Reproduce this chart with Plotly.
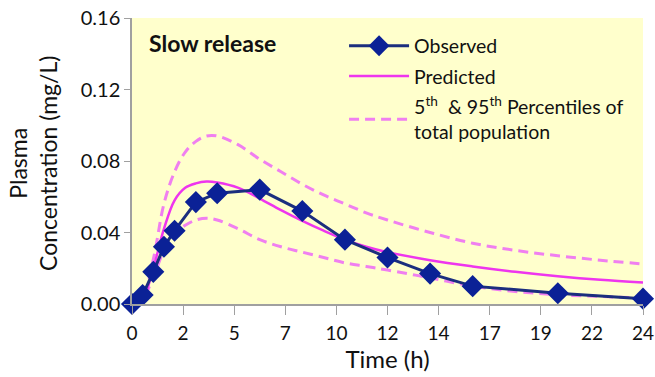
import plotly.graph_objects as go

# Observed data
obs_t = [0, 0.5, 1, 1.5, 2, 3, 4, 6, 8, 10, 12, 14, 16, 20, 24]
obs_c = [0.000, 0.005, 0.018, 0.032, 0.041, 0.057, 0.062, 0.064, 0.052, 0.036,
         0.026, 0.017, 0.010, 0.006, 0.003]

# Model curves
curve_t = [0, 0.5, 1, 1.5, 2, 2.5, 3, 3.5, 4, 5, 6, 7, 8, 9, 10, 11, 12, 14, 16, 18, 20, 22, 24]
pred_c = [0.000, 0.003, 0.020, 0.042, 0.058, 0.065, 0.0675, 0.0685, 0.068, 0.065, 0.059,
          0.0525, 0.0465, 0.041, 0.036, 0.032, 0.029, 0.0245, 0.021, 0.018, 0.0155, 0.0135, 0.012]
p95_c = [0.000, 0.004, 0.025, 0.056, 0.074, 0.085, 0.091, 0.094, 0.094, 0.089, 0.081,
         0.074, 0.067, 0.061, 0.056, 0.051, 0.047, 0.040, 0.034, 0.030, 0.027, 0.0245, 0.0224]
p5_c = [0.000, 0.003, 0.015, 0.030, 0.039, 0.044, 0.047, 0.048, 0.047, 0.042, 0.036,
        0.032, 0.029, 0.026, 0.023, 0.021, 0.019, 0.0146, 0.0100, 0.0070, 0.0052, 0.0042, 0.0034]

x_tickvals = [0, 2.4, 4.8, 7.2, 9.6, 12, 14.4, 16.8, 19.2, 21.6, 24]
x_ticktext = ['0', '2', '5', '7', '10', '12', '14', '17', '19', '22', '24']
y_tickvals = [0, 0.04, 0.08, 0.12, 0.16]

FONT = "Lato"
pct_color = "#f07ff0"
pred_color = "#ee35ee"

fig = go.Figure()

fig.add_trace(go.Scatter(
    x=curve_t, y=p95_c, mode="lines", line=dict(color=pct_color, width=3, dash="10px,6px", shape="spline"),
    name="5<sup>th</sup>  & 95<sup>th</sup> Percentiles of<br>total population",
    legendgroup="c", legendrank=3, showlegend=True))
fig.add_trace(go.Scatter(
    x=curve_t, y=p5_c, mode="lines", line=dict(color=pct_color, width=3, dash="10px,6px", shape="spline"),
    legendgroup="c", showlegend=False))
fig.add_trace(go.Scatter(
    x=curve_t, y=pred_c, mode="lines", line=dict(color=pred_color, width=2.5, shape="spline"),
    name="Predicted", legendgroup="b", legendrank=2))
fig.add_trace(go.Scatter(
    x=obs_t, y=obs_c, mode="lines+markers",
    line=dict(color="#1b2e7e", width=3),
    marker=dict(symbol="diamond", size=17, color="#0b2196"),
    name="Observed", legendgroup="a", legendrank=1, cliponaxis=False))

fig.add_annotation(x=0, y=0.16, xref="x", yref="y", text="<b>Slow release</b>",
                   showarrow=False, xanchor="left", yanchor="top", xshift=15, yshift=-9,
                   font=dict(family=FONT, size=23, color="#111111"))

fig.add_annotation(x=0, y=0.5, xref="paper", yref="paper", text="Plasma<br>Concentration (mg/L)",
                   showarrow=False, textangle=-90, xanchor="center", yanchor="middle",
                   xshift=-99, yshift=-3,
                   font=dict(family=FONT, size=23, color="#111111"))

fig.update_layout(
    width=655, height=377,
    margin=dict(l=132, r=12, t=18, b=73),
    paper_bgcolor="white", plot_bgcolor="#ffffcc",
    font=dict(family=FONT, size=19, color="#111111"),
    showlegend=True,
    legend=dict(x=0.415, y=0.97, xanchor="left", yanchor="top", bgcolor="rgba(0,0,0,0)",
                traceorder="grouped", tracegroupgap=2, font=dict(family=FONT, size=19.5),
                itemwidth=60),
    xaxis=dict(range=[0, 24], tickvals=x_tickvals, ticktext=x_ticktext, showline=True,
               linecolor="#a0a0a0", linewidth=1.5, ticks="outside", ticklen=9, tickcolor="#a0a0a0",
               showgrid=False, zeroline=False, automargin=False, ticklabelstandoff=2,
               title=dict(text="Time (h)", font=dict(family=FONT, size=24), standoff=2),
               tickfont=dict(family=FONT, size=19)),
    yaxis=dict(range=[0, 0.16], tickvals=y_tickvals, tickformat=".2f", showline=True,
               linecolor="#a0a0a0", linewidth=1.5, ticks="outside", ticklen=6, tickcolor="#a0a0a0",
               showgrid=False, zeroline=False, automargin=False, tickfont=dict(family=FONT, size=20)),
)

fig.write_html("out.html", config={"displayModeBar": False},
               post_script="document.body.style.margin='0';")
